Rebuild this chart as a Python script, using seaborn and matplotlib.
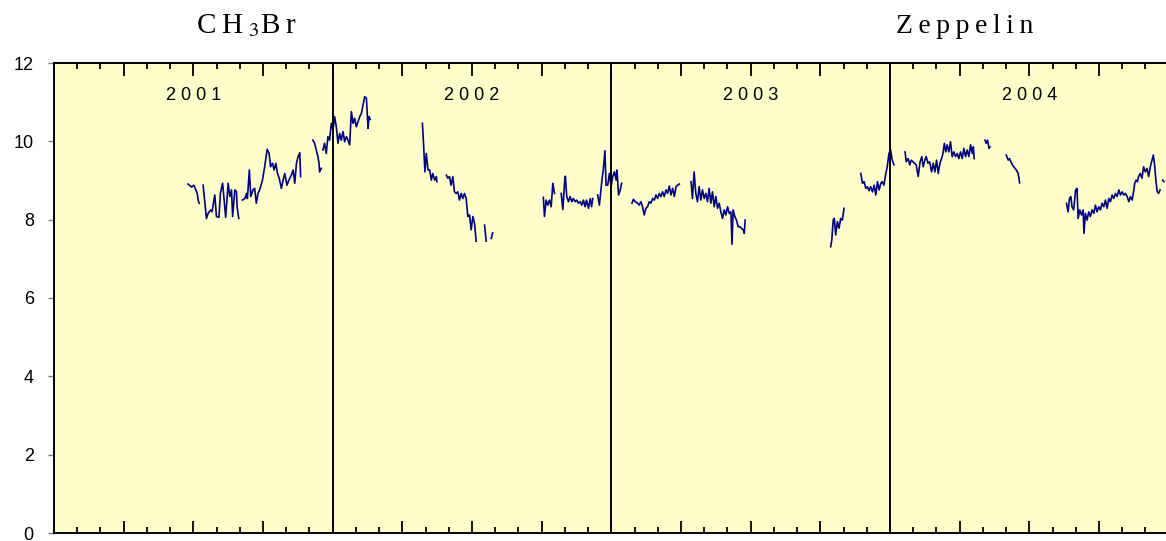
import numpy as np
import pandas as pd
import matplotlib
matplotlib.use("Agg")
import matplotlib.pyplot as plt
import seaborn as sns

# CH3Br at Zeppelin, decimal year vs ppt; None marks a gap in the record
t_2001 = [2001.481, 2001.494, 2001.502, 2001.509, 2001.514, 2001.517, 2001.521, None,
          2001.535, 2001.541, 2001.547, 2001.553, 2001.562, 2001.567, 2001.577, 2001.583,
          2001.592, 2001.597, 2001.605, 2001.611, 2001.616, 2001.625, 2001.631, 2001.637,
          2001.641, 2001.649, 2001.655, 2001.657, 2001.663, None,
          2001.676, 2001.685, 2001.691, 2001.694, 2001.701, 2001.706, 2001.714, 2001.720,
          2001.726, 2001.732, 2001.738, 2001.748, 2001.756, 2001.765, 2001.772, 2001.777,
          2001.784, 2001.790, 2001.796, 2001.802, 2001.808, 2001.816, 2001.822, 2001.828,
          2001.836, 2001.843, 2001.852, 2001.858, 2001.864, 2001.870, 2001.876, 2001.882,
          2001.885, None,
          2001.929, 2001.935, 2001.941, 2001.947, 2001.951, 2001.953, 2001.959, None,
          2001.965, 2001.971, 2001.977, 2001.983, 2001.989, 2001.995, 2002.001, 2002.007,
          2002.013, 2002.019, 2002.025, 2002.031, 2002.037, 2002.043, 2002.049, 2002.055,
          2002.061, 2002.067, 2002.073, 2002.079, 2002.085, 2002.091, 2002.097, 2002.103,
          2002.109, 2002.115, 2002.121, 2002.127, 2002.130, 2002.135]
v_2001 = [8.91, 8.83, 8.88, 8.76, 8.67, 8.50, 8.42, None,
          8.88, 8.46, 8.03, 8.16, 8.25, 8.20, 8.63, 8.08,
          8.06, 8.67, 8.93, 8.46, 8.06, 8.93, 8.59, 8.76,
          8.08, 8.76, 8.71, 8.33, 8.03, None,
          8.50, 8.54, 8.67, 8.54, 9.27, 8.59, 8.76, 8.80,
          8.42, 8.67, 8.76, 9.01, 9.35, 9.80, 9.69, 9.35,
          9.44, 9.27, 9.44, 9.18, 9.06, 8.80, 9.01, 9.18,
          8.88, 9.01, 9.14, 9.27, 8.93, 9.44, 9.61, 9.71,
          9.10, None,
          10.03, 9.95, 9.78, 9.61, 9.44, 9.22, 9.31, None,
          9.78, 9.95, 9.69, 10.12, 10.03, 10.46, 10.29, 10.63,
          10.37, 9.95, 10.20, 10.03, 10.25, 9.99, 10.12, 10.03,
          9.91, 10.76, 10.46, 10.59, 10.37, 10.50, 10.63, 10.71,
          10.93, 11.14, 11.10, 10.33, 10.63, 10.56]

t_2002 = [2002.322, 2002.326, 2002.331, 2002.336, 2002.342, 2002.348, 2002.354, 2002.359,
          2002.366, 2002.372, 2002.374, None,
          2002.408, 2002.413, 2002.419, 2002.425, 2002.431, 2002.437, 2002.443, 2002.449,
          2002.455, 2002.461, 2002.467, 2002.473, 2002.479, 2002.485, 2002.491, 2002.497,
          2002.503, 2002.509, 2002.515, None,
          2002.545, 2002.551, None, 2002.569, 2002.574, None,
          2002.756, 2002.760, 2002.766, 2002.772, 2002.778, 2002.784, 2002.790, 2002.796, None,
          2002.820, 2002.826, 2002.832, 2002.835, 2002.840, 2002.846, 2002.852, 2002.858,
          2002.864, 2002.870, 2002.876, 2002.882, 2002.888, 2002.894, 2002.900, 2002.906,
          2002.911, 2002.918, 2002.924, 2002.929, 2002.933, None,
          2002.951, 2002.957, 2002.967, 2002.971, 2002.977, 2002.981, 2002.987, 2002.993,
          2002.999, 2003.005, 2003.011, 2003.017, 2003.020, 2003.026, 2003.032, 2003.037]
v_2002 = [10.46, 9.95, 9.22, 9.69, 9.27, 9.27, 9.01, 9.18,
          9.01, 9.10, 8.97, None,
          9.14, 9.06, 9.10, 8.88, 9.10, 8.71, 8.67, 8.71,
          8.50, 8.67, 8.54, 8.67, 8.54, 8.08, 8.12, 7.74,
          8.08, 7.91, 7.45, None,
          7.86, 7.45, None, 7.52, 7.66, None,
          8.57, 8.08, 8.50, 8.37, 8.50, 8.33, 8.93, 8.67, None,
          8.67, 8.26, 8.93, 9.11, 8.59, 8.46, 8.59, 8.46,
          8.54, 8.46, 8.50, 8.42, 8.46, 8.37, 8.50, 8.33,
          8.50, 8.29, 8.54, 8.33, 8.54, None,
          8.63, 8.37, 9.06, 9.27, 9.76, 8.88, 8.88, 9.18,
          8.84, 9.10, 9.22, 9.01, 9.27, 8.63, 8.76, 8.93]

t_2003 = [2003.074, 2003.079, 2003.086, 2003.094, 2003.100, 2003.106, 2003.112, 2003.118,
          2003.124, 2003.130, 2003.136, 2003.142, 2003.148, 2003.154, 2003.160, 2003.166,
          2003.172, 2003.178, 2003.184, 2003.190, 2003.196, 2003.202, 2003.208, 2003.214,
          2003.220, 2003.226, 2003.232, 2003.238, 2003.244, None,
          2003.286, 2003.291, 2003.297, 2003.303, 2003.309, 2003.315, 2003.321, 2003.327,
          2003.333, 2003.339, 2003.345, 2003.351, 2003.357, 2003.363, 2003.369, 2003.375,
          2003.381, 2003.387, 2003.393, 2003.399, 2003.405, 2003.411, 2003.417, 2003.423,
          2003.429, 2003.433, 2003.437, 2003.443, 2003.449, 2003.455, 2003.461, 2003.467,
          2003.473, 2003.477, 2003.480, None,
          2003.787, 2003.791, 2003.796, 2003.800, 2003.805, 2003.811, 2003.817, 2003.823,
          2003.829, 2003.835, None,
          2003.895, 2003.901, 2003.907, 2003.913, 2003.919, 2003.925, 2003.931, 2003.937,
          2003.943, 2003.949, 2003.955, 2003.961, 2003.967, 2003.972, 2003.978, 2003.985,
          2003.990, 2003.996, 2004.002, 2004.008, 2004.014]
v_2003 = [8.42, 8.52, 8.46, 8.42, 8.37, 8.46, 8.33, 8.12,
          8.29, 8.33, 8.46, 8.42, 8.54, 8.50, 8.63, 8.54,
          8.67, 8.59, 8.71, 8.59, 8.76, 8.67, 8.86, 8.63,
          8.80, 8.59, 8.84, 8.88, 8.91, None,
          8.97, 8.54, 9.22, 8.67, 8.46, 8.84, 8.50, 8.76,
          8.54, 8.67, 8.46, 8.80, 8.42, 8.71, 8.33, 8.59,
          8.29, 8.42, 8.20, 8.03, 8.25, 8.12, 8.33, 8.16,
          8.20, 7.37, 8.25, 8.08, 7.99, 7.82, 7.82, 7.78,
          7.74, 7.65, 7.99, None,
          7.31, 7.48, 7.99, 8.03, 7.61, 7.95, 7.78, 8.03,
          7.99, 8.29, None,
          9.18, 8.93, 8.97, 8.80, 8.84, 8.74, 8.84, 8.71,
          8.88, 8.63, 8.97, 8.76, 8.93, 8.97, 8.88, 9.18,
          9.35, 9.69, 9.78, 9.52, 9.40]

t_2004 = [2004.054, 2004.058, 2004.065, 2004.071, 2004.076, 2004.082, 2004.088, 2004.094,
          2004.101, 2004.108, 2004.114, 2004.119, 2004.125, 2004.130, 2004.136, 2004.142,
          2004.149, 2004.155, 2004.161, 2004.167, 2004.173, 2004.179, 2004.185, 2004.190,
          2004.195, 2004.200, 2004.205, 2004.211, 2004.217, 2004.223, 2004.229, 2004.235,
          2004.241, 2004.247, 2004.253, 2004.259, 2004.265, 2004.271, 2004.277, 2004.283,
          2004.289, 2004.295, 2004.299, 2004.302, None,
          2004.341, 2004.345, 2004.350, 2004.355, 2004.359, None,
          2004.417, 2004.424, 2004.429, 2004.436, 2004.444, 2004.453, 2004.460, 2004.465, None,
          2004.633, 2004.639, 2004.644, 2004.649, 2004.653, 2004.659, 2004.666, 2004.671,
          2004.675, 2004.681, 2004.687, 2004.693, 2004.696, 2004.701, 2004.707, 2004.713,
          2004.719, 2004.725, 2004.731, 2004.737, 2004.743, 2004.749, 2004.755, 2004.761,
          2004.767, 2004.773, 2004.779, 2004.785, 2004.791, 2004.797, 2004.803, 2004.809,
          2004.815, 2004.821, 2004.827, 2004.833, 2004.839, 2004.845, 2004.851, 2004.857,
          2004.863, 2004.869, 2004.875, 2004.878, 2004.883, 2004.888, 2004.892, 2004.898,
          2004.904, 2004.910, 2004.916, 2004.922, 2004.928, 2004.934, 2004.940, 2004.945,
          2004.950, 2004.955, 2004.959, 2004.964, 2004.969, None,
          2004.978, 2004.983]
v_2004 = [9.73, 9.48, 9.56, 9.40, 9.52, 9.48, 9.44, 9.40,
          9.10, 9.48, 9.61, 9.35, 9.52, 9.61, 9.44, 9.48,
          9.22, 9.44, 9.22, 9.52, 9.18, 9.44, 9.56, 9.69,
          9.95, 9.73, 9.91, 9.73, 9.99, 9.61, 9.73, 9.61,
          9.69, 9.56, 9.73, 9.56, 9.82, 9.61, 9.78, 9.61,
          9.91, 9.69, 9.86, 9.56, None,
          10.03, 9.95, 10.03, 9.82, 9.86, None,
          9.65, 9.52, 9.56, 9.44, 9.35, 9.27, 9.18, 8.94, None,
          8.42, 8.20, 8.54, 8.59, 8.33, 8.25, 8.76, 8.80,
          8.03, 8.25, 8.12, 8.25, 7.65, 8.16, 7.99, 8.20,
          8.08, 8.25, 8.16, 8.37, 8.20, 8.33, 8.25, 8.42,
          8.33, 8.50, 8.29, 8.54, 8.46, 8.63, 8.54, 8.67,
          8.59, 8.76, 8.63, 8.71, 8.63, 8.67, 8.59, 8.46,
          8.59, 8.50, 8.76, 8.93, 9.01, 8.97, 9.10, 9.18,
          9.06, 9.35, 9.22, 9.31, 9.10, 9.35, 9.52, 9.65,
          9.35, 8.93, 8.71, 8.67, 8.76, None,
          9.01, 8.97]

years = [2001, 2002, 2003, 2004]
y_ticks = [0, 2, 4, 6, 8, 10, 12]

t_all = t_2001 + [None] + t_2002 + [None] + t_2003 + [None] + t_2004
v_all = v_2001 + [None] + v_2002 + [None] + v_2003 + [None] + v_2004
df = pd.DataFrame({"t": pd.to_numeric(t_all), "ppt": pd.to_numeric(v_all)})
df["seg"] = df["t"].isna().cumsum()
df = df.dropna()

W, H = 1166, 541
fig = plt.figure(figsize=(W / 100, H / 100), dpi=100)
ax = fig.add_axes([54 / W, 8 / H, 1114.7 / W, 470 / H])
ax.set_facecolor("#FFFFCC")

sns.lineplot(data=df, x="t", y="ppt", units="seg", estimator=None,
             color="#000080", linewidth=1.2, ax=ax, legend=False)

ax.set_xlim(2001, 2005)
ax.set_ylim(0, 12)
ax.set_xlabel("")
ax.set_ylabel("")

for yr in years[1:]:
    ax.axvline(yr, color="black", linewidth=1.4)
for yr in years:
    ax.text(yr + 0.5, 11.18, " ".join(str(yr)), ha="center", va="center",
            fontsize=13, family="Liberation Sans", color="black")

months = np.arange(2001, 2005.001, 1 / 12)
quarters = np.arange(2001, 2005.001, 0.25)
ax.set_xticks(quarters)
ax.set_xticks(months, minor=True)
ax.set_xticklabels([])
ax.tick_params(axis="x", which="major", direction="in", length=9, width=1.3,
               top=True, bottom=True, color="black")
ax.tick_params(axis="x", which="minor", direction="in", length=4.5, width=1.3,
               top=True, bottom=True, color="black")

ax.set_yticks(y_ticks)
ax.set_yticklabels([str(v) for v in y_ticks], family="Liberation Sans", fontsize=13)
ax.tick_params(axis="y", direction="out", length=4.5, width=1, color="#808080", pad=10)

for side in ["left", "top", "bottom"]:
    ax.spines[side].set_linewidth(1.4)
    ax.spines[side].set_color("black")
ax.spines["right"].set_visible(False)

plt.rcParams["mathtext.fontset"] = "stix"
fig.text(246 / W, 1 - 33 / H, "C\u2009H\u2009$_3$B\u2009r", ha="center", va="baseline",
         fontsize=21, family="Liberation Serif")
fig.text(965 / W, 1 - 33 / H, "\u2009".join("Zeppelin"), ha="center", va="baseline",
         fontsize=20, family="Liberation Serif")

fig.savefig("out.png", dpi=100)
